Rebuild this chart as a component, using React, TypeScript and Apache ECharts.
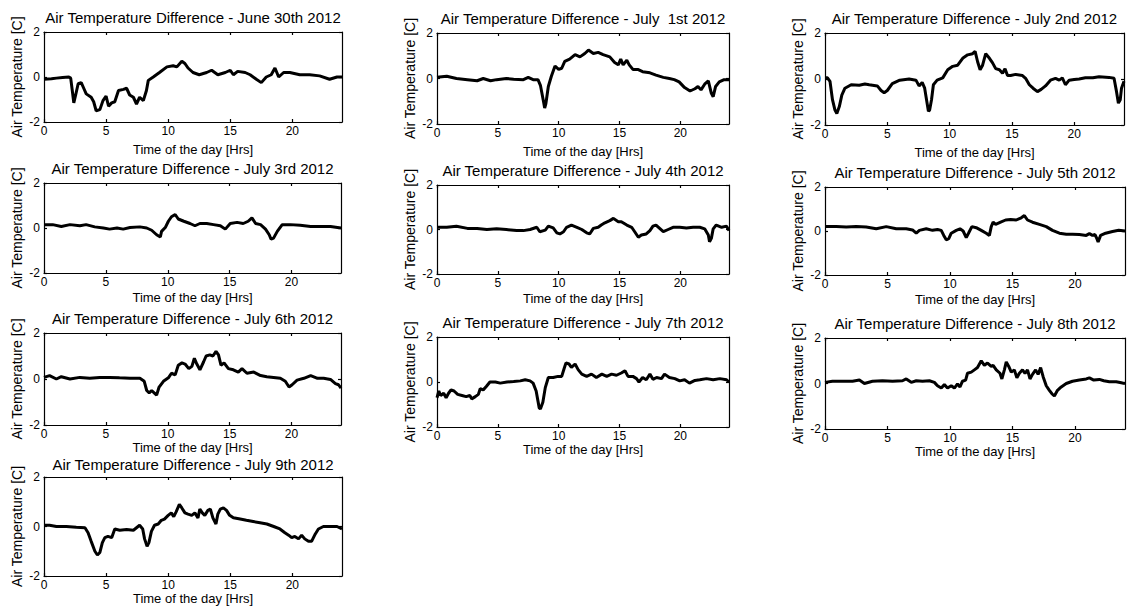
import React, { useEffect, useRef } from 'react';
import * as echarts from 'echarts';

const TITLES = [
  'Air Temperature Difference - June 30th 2012',
  'Air Temperature Difference - July  1st 2012',
  'Air Temperature Difference - July 2nd 2012',
  'Air Temperature Difference - July 3rd 2012',
  'Air Temperature Difference - July 4th 2012',
  'Air Temperature Difference - July 5th 2012',
  'Air Temperature Difference - July 6th 2012',
  'Air Temperature Difference - July 7th 2012',
  'Air Temperature Difference - July 8th 2012',
  'Air Temperature Difference - July 9th 2012',
];
const X_NAME = 'Time of the day [Hrs]';
const Y_NAME = 'Air Temperature [C]';
const X_TICKS = [0, 5, 10, 15, 20];
const Y_TICKS = [-2, 0, 2];

const june30 = [[0,-0.1],[0.6,-0.08],[1,-0.05],[1.5,-0.02],[2,0.0],[2.15,-0.05],[2.3,-0.7],[2.4,-1.15],[2.55,-0.8],[2.75,-0.3],[3.0,-0.25],[3.2,-0.5],[3.4,-0.75],[3.8,-0.9],[4.0,-1.1],[4.2,-1.5],[4.5,-1.45],[4.75,-1.05],[5.0,-0.85],[5.2,-1.3],[5.45,-1.15],[5.7,-1.1],[6.0,-0.6],[6.4,-0.55],[6.65,-0.5],[6.9,-0.8],[7.2,-0.9],[7.45,-1.2],[7.7,-0.9],[8.0,-1.05],[8.25,-0.6],[8.4,-0.15],[8.8,0.0],[9.3,0.2],[9.9,0.45],[10.4,0.5],[10.7,0.45],[11.1,0.7],[11.35,0.6],[11.6,0.4],[12.0,0.2],[12.5,0.1],[13.1,0.2],[13.5,0.3],[14.0,0.1],[14.6,0.2],[15.0,0.3],[15.25,0.1],[15.6,0.25],[16.2,0.2],[16.6,0.1],[17.1,-0.1],[17.5,-0.25],[17.9,0.0],[18.3,0.1],[18.6,0.4],[18.9,0.0],[19.3,0.2],[19.8,0.2],[20.6,0.1],[21.4,0.1],[22.2,0.05],[23.0,-0.1],[23.6,0.0],[24,0.0]];
const july1 = [[0,0.05],[0.8,0.1],[1.6,0.0],[2.5,-0.05],[3.3,-0.1],[3.8,0.0],[4.4,-0.1],[4.9,-0.05],[5.7,0.0],[6.3,-0.03],[7.1,-0.05],[7.5,0.05],[7.9,-0.05],[8.3,-0.05],[8.5,-0.3],[8.75,-1.0],[8.85,-1.3],[8.95,-1.1],[9.15,-0.35],[9.4,0.1],[9.7,0.55],[10.0,0.4],[10.25,0.45],[10.5,0.75],[10.9,0.85],[11.35,1.05],[11.75,0.95],[12.15,1.1],[12.45,1.25],[12.85,1.1],[13.25,1.15],[13.65,1.05],[14.2,0.95],[14.6,0.7],[14.9,0.6],[15.1,0.85],[15.3,0.6],[15.6,0.8],[15.8,0.6],[16.1,0.4],[16.5,0.4],[16.9,0.3],[17.5,0.25],[18.0,0.15],[18.6,0.05],[19.1,0.0],[19.5,-0.05],[19.9,-0.15],[20.35,-0.4],[20.8,-0.55],[21.2,-0.45],[21.45,-0.35],[21.7,-0.5],[22.0,-0.25],[22.3,-0.1],[22.55,-0.65],[22.7,-0.8],[22.9,-0.35],[23.2,-0.15],[23.6,-0.05],[24,-0.05]];
const july2 = [[0,0.05],[0.2,0.05],[0.4,-0.1],[0.6,-0.9],[0.8,-1.35],[0.95,-1.5],[1.15,-1.2],[1.35,-0.7],[1.6,-0.4],[2.1,-0.25],[2.75,-0.27],[3.2,-0.22],[3.55,-0.25],[4.2,-0.3],[4.5,-0.5],[4.75,-0.6],[5.0,-0.5],[5.4,-0.2],[6.0,-0.05],[6.75,0.0],[7.3,-0.05],[7.55,-0.3],[7.8,-0.15],[8.0,-0.4],[8.15,-0.9],[8.3,-1.4],[8.4,-1.35],[8.55,-0.9],[8.7,-0.25],[9.0,-0.05],[9.45,0.05],[9.85,0.4],[10.25,0.55],[10.65,0.6],[11.05,0.9],[11.45,1.05],[11.85,1.1],[12.05,1.2],[12.25,0.75],[12.45,0.4],[12.65,0.6],[12.9,1.1],[13.2,0.9],[13.45,0.7],[13.7,0.45],[14.0,0.4],[14.25,0.25],[14.45,0.45],[14.65,0.15],[14.9,0.15],[15.3,0.2],[15.85,0.15],[16.1,0.03],[16.4,-0.25],[16.7,-0.4],[17.05,-0.55],[17.35,-0.45],[17.7,-0.3],[18.1,-0.05],[18.5,0.03],[18.8,-0.05],[19.05,0.05],[19.3,-0.25],[19.6,-0.05],[20.0,-0.02],[20.4,0.0],[20.9,0.05],[21.5,0.05],[22.0,0.1],[22.8,0.07],[23.2,0.03],[23.4,-0.55],[23.55,-1.05],[23.7,-0.9],[23.8,-0.4],[24,-0.1]];
const july3 = [[0,0.15],[0.7,0.15],[1.4,0.07],[2.1,0.15],[2.9,0.1],[3.4,0.15],[4.1,0.05],[4.8,0.0],[5.3,-0.05],[5.9,0.0],[6.4,-0.05],[6.95,0.02],[7.75,0.05],[8.3,0.0],[8.7,-0.1],[9.1,-0.3],[9.4,-0.4],[9.5,-0.15],[9.8,0.02],[10.05,0.3],[10.3,0.5],[10.6,0.6],[10.85,0.4],[11.3,0.3],[11.8,0.2],[12.2,0.1],[12.6,0.2],[13.15,0.2],[13.7,0.15],[14.25,0.1],[14.65,-0.05],[15.05,0.2],[15.6,0.25],[16.1,0.2],[16.5,0.3],[16.8,0.45],[17.1,0.2],[17.5,0.15],[17.9,-0.05],[18.2,-0.3],[18.35,-0.5],[18.55,-0.45],[18.85,-0.15],[19.25,0.15],[19.9,0.15],[20.7,0.12],[21.55,0.07],[22.35,0.07],[23.15,0.07],[24,0.0]];
const july4 = [[0,0.1],[0.8,0.1],[1.6,0.15],[2.5,0.05],[3.3,0.05],[4.1,0.0],[4.9,0.03],[5.7,0.0],[6.55,-0.05],[7.1,-0.05],[7.65,0.0],[8.2,0.1],[8.45,-0.1],[8.9,-0.03],[9.15,0.15],[9.55,0.07],[9.85,-0.15],[10.1,-0.2],[10.4,-0.1],[10.65,0.1],[11.05,0.2],[11.5,0.1],[11.9,0.0],[12.3,-0.15],[12.55,-0.2],[12.85,0.05],[13.25,0.1],[13.5,0.2],[13.8,0.3],[14.2,0.4],[14.5,0.5],[14.9,0.35],[15.15,0.35],[15.6,0.2],[16.0,0.1],[16.25,-0.1],[16.55,-0.35],[16.8,-0.25],[17.2,-0.2],[17.5,-0.05],[17.75,0.15],[18.0,0.2],[18.3,0.05],[18.6,-0.1],[19.0,0.0],[19.4,0.1],[19.95,0.1],[20.5,0.07],[21.05,0.1],[21.6,0.1],[22.0,0.03],[22.3,-0.25],[22.4,-0.55],[22.55,-0.4],[22.7,0.03],[22.95,0.2],[23.4,0.1],[23.8,0.15],[24,-0.05]];
const july5 = [[0,0.2],[0.9,0.2],[1.7,0.18],[2.5,0.2],[3.3,0.18],[4.1,0.1],[4.9,0.2],[5.7,0.1],[6.5,0.1],[7.0,0.05],[7.3,-0.1],[7.55,0.03],[8.1,0.1],[8.6,0.03],[9.0,0.07],[9.3,0.03],[9.5,-0.2],[9.7,-0.4],[9.9,-0.35],[10.1,-0.1],[10.5,0.03],[10.8,0.1],[11.05,0.0],[11.3,-0.3],[11.5,-0.08],[11.75,0.2],[12.1,0.15],[12.5,0.03],[12.9,-0.1],[13.15,-0.2],[13.3,0.2],[13.45,0.4],[13.65,0.3],[14.05,0.4],[14.45,0.5],[14.85,0.52],[15.3,0.5],[15.7,0.6],[15.95,0.7],[16.2,0.5],[16.6,0.4],[17.15,0.3],[17.7,0.2],[18.2,0.03],[18.75,-0.1],[19.3,-0.15],[19.8,-0.15],[20.35,-0.16],[20.9,-0.2],[21.15,-0.12],[21.4,-0.2],[21.6,-0.16],[21.75,-0.35],[21.85,-0.5],[22.05,-0.2],[22.45,-0.1],[23.0,-0.02],[23.5,0.03],[24,0.0]];
const july6 = [[0,0.07],[0.45,0.15],[1.0,0.0],[1.4,0.1],[2.1,0.0],[2.9,0.07],[3.7,0.03],[4.5,0.07],[5.3,0.07],[6.1,0.05],[6.95,0.03],[7.75,0.03],[8.1,-0.1],[8.3,-0.5],[8.5,-0.6],[8.7,-0.5],[8.9,-0.6],[9.1,-0.7],[9.3,-0.35],[9.65,-0.1],[10.05,0.05],[10.3,0.25],[10.6,0.18],[10.85,0.6],[11.15,0.7],[11.4,0.65],[11.7,0.45],[11.95,0.55],[12.15,0.9],[12.35,0.65],[12.6,0.4],[12.9,0.75],[13.1,1.0],[13.4,1.05],[13.65,1.0],[13.9,1.2],[14.1,1.05],[14.3,0.6],[14.55,0.7],[14.9,0.45],[15.3,0.4],[15.7,0.3],[16.0,0.45],[16.4,0.25],[16.95,0.3],[17.5,0.15],[18.0,0.1],[18.55,0.07],[19.1,0.03],[19.5,-0.1],[19.8,-0.35],[20.05,-0.25],[20.45,-0.05],[21.0,0.03],[21.55,0.15],[22.1,0.03],[22.6,0.03],[23.15,-0.02],[23.55,-0.2],[23.8,-0.25],[24,-0.4]];
const july7 = [[0,-0.7],[0.15,-0.4],[0.3,-0.6],[0.55,-0.5],[0.75,-0.7],[0.95,-0.5],[1.15,-0.35],[1.4,-0.4],[1.7,-0.55],[2.05,-0.6],[2.4,-0.65],[2.7,-0.6],[2.85,-0.75],[3.15,-0.65],[3.4,-0.55],[3.55,-0.3],[3.8,-0.35],[4.05,-0.2],[4.35,0.0],[4.8,0.0],[5.2,-0.05],[5.75,0.0],[6.3,0.02],[6.85,0.05],[7.25,0.1],[7.65,0.05],[7.9,-0.05],[8.15,-0.4],[8.3,-0.85],[8.4,-1.15],[8.5,-1.2],[8.7,-0.9],[8.9,-0.25],[9.15,0.2],[9.55,0.2],[9.95,0.25],[10.25,0.25],[10.45,0.6],[10.6,0.85],[10.85,0.8],[11.05,0.65],[11.35,0.8],[11.6,0.55],[11.9,0.35],[12.3,0.25],[12.7,0.35],[13.1,0.2],[13.55,0.35],[13.95,0.25],[14.35,0.35],[14.75,0.3],[15.15,0.4],[15.45,0.5],[15.7,0.25],[16.1,0.25],[16.4,0.15],[16.6,0.0],[16.9,0.2],[17.2,0.1],[17.5,0.35],[17.75,0.12],[18.05,0.2],[18.45,0.15],[18.7,0.35],[19.1,0.2],[19.55,0.15],[19.95,0.05],[20.35,0.1],[20.75,-0.05],[21.2,0.07],[21.6,0.1],[22.15,0.15],[22.7,0.1],[23.25,0.15],[23.8,0.1],[24,0.0]];
const july8 = [[0,0.05],[0.6,0.1],[1.4,0.1],[2.2,0.1],[2.75,0.15],[3.15,0.0],[3.8,0.1],[4.6,0.12],[5.4,0.1],[6.2,0.12],[6.5,0.2],[6.9,0.05],[7.3,0.12],[7.8,0.1],[8.35,0.12],[8.75,0.05],[9.0,-0.1],[9.3,-0.2],[9.55,-0.05],[9.8,-0.2],[10.1,-0.1],[10.35,-0.2],[10.6,-0.02],[10.8,-0.15],[11.0,0.1],[11.25,0.15],[11.4,0.45],[11.7,0.5],[11.95,0.6],[12.2,0.7],[12.5,1.0],[12.75,0.8],[13.0,0.9],[13.3,0.75],[13.45,0.8],[13.7,0.6],[14.0,0.45],[14.15,0.2],[14.35,0.6],[14.5,0.95],[14.7,0.75],[14.9,0.5],[15.15,0.6],[15.35,0.25],[15.55,0.45],[15.8,0.6],[16.0,0.45],[16.2,0.6],[16.4,0.2],[16.6,0.4],[16.85,0.6],[17.05,0.4],[17.25,0.7],[17.45,0.3],[17.7,-0.1],[17.95,-0.3],[18.15,-0.45],[18.35,-0.55],[18.6,-0.3],[18.9,-0.15],[19.3,0.0],[19.8,0.1],[20.35,0.15],[20.9,0.2],[21.15,0.25],[21.5,0.15],[21.95,0.18],[22.3,0.12],[22.75,0.08],[23.3,0.08],[23.8,0.02],[24,0.0]];
const july9 = [[0,0.05],[0.45,0.05],[1.0,0.0],[1.8,0.0],[2.6,-0.03],[3.3,-0.05],[3.55,-0.25],[3.8,-0.6],[4.1,-1.0],[4.3,-1.15],[4.5,-1.05],[4.7,-0.65],[4.9,-0.45],[5.15,-0.4],[5.45,-0.45],[5.7,-0.1],[6.1,-0.15],[6.65,-0.12],[7.2,-0.15],[7.45,-0.05],[7.7,0.05],[7.95,-0.1],[8.1,-0.5],[8.3,-0.8],[8.45,-0.65],[8.65,-0.2],[8.9,0.05],[9.2,0.1],[9.45,0.25],[9.7,0.3],[10.0,0.45],[10.25,0.55],[10.45,0.4],[10.65,0.6],[10.9,0.9],[11.1,0.75],[11.35,0.55],[11.6,0.5],[11.9,0.45],[12.15,0.55],[12.4,0.35],[12.55,0.7],[12.75,0.55],[12.95,0.45],[13.2,0.65],[13.4,0.7],[13.6,0.35],[13.85,0.1],[14.0,0.5],[14.2,0.7],[14.45,0.75],[14.7,0.65],[14.95,0.45],[15.25,0.35],[15.8,0.3],[16.3,0.25],[16.85,0.2],[17.4,0.15],[17.95,0.1],[18.5,0.0],[19.0,-0.1],[19.4,-0.25],[19.7,-0.35],[19.95,-0.45],[20.2,-0.4],[20.5,-0.5],[20.75,-0.35],[21.0,-0.5],[21.3,-0.6],[21.55,-0.6],[21.85,-0.3],[22.1,-0.1],[22.5,0.0],[23.05,0.0],[23.6,0.0],[24,-0.1]];

const SERIES = [june30, july1, july2, july3, july4, july5, july6, july7, july8, july9];

// layout: [left, top, width, height] of each plot box
const BOXES = [
  [44, 32, 298, 90],
  [437, 33, 292, 91],
  [825, 33, 299, 92],
  [44, 183, 297, 90],
  [437, 185, 292, 89],
  [825, 187, 300, 88],
  [44, 333, 297, 92],
  [437, 337, 292, 90],
  [825, 338, 300, 91],
  [44, 477, 298, 99],
];
// per-row gap of the x-axis name below the box, and of the title above it
const ROW_NAME_GAP = [21, 18, 15, 16];
const ROW_TITLE_OFFSET = [22, 22, 22, 20];

const FONT = '"Liberation Sans", Arial, Helvetica, sans-serif';

export default function App() {
  const ref = useRef<HTMLDivElement>(null);
  useEffect(() => {
    if (!ref.current) return;
    const chart = echarts.init(ref.current, null, { renderer: 'svg' });
    const grid: any[] = [];
    const xAxis: any[] = [];
    const yAxis: any[] = [];
    const series: any[] = [];
    const title: any[] = [];
    const lineStyle = { color: '#000', width: 1.2 };
    BOXES.forEach(([l, t, w, h], i) => {
      const row = Math.floor(i / 3);
      grid.push({ left: l, top: t, width: w, height: h, show: false });
      const axisLine = { show: true, onZero: false, lineStyle };
      const xTick = { show: true, inside: true, length: 3, lineStyle, customValues: X_TICKS };
      const yTick = { show: true, inside: true, length: 3, lineStyle, customValues: Y_TICKS };
      xAxis.push({
        type: 'value', gridIndex: i, position: 'bottom', min: 0, max: 24,
        axisLine, axisTick: xTick, splitLine: { show: false },
        axisLabel: { customValues: X_TICKS, color: '#000', fontSize: 12, margin: 3, fontFamily: FONT },
        name: X_NAME, nameLocation: 'middle', nameGap: ROW_NAME_GAP[row],
        nameTextStyle: { color: '#000', fontSize: 13, fontFamily: FONT },
      });
      xAxis.push({
        type: 'value', gridIndex: i, position: 'top', min: 0, max: 24,
        axisLine, axisTick: xTick, splitLine: { show: false }, axisLabel: { show: false },
      });
      yAxis.push({
        type: 'value', gridIndex: i, position: 'left', min: -2, max: 2, interval: 2,
        axisLine, axisTick: yTick, splitLine: { show: false },
        axisLabel: { color: '#000', fontSize: 12, margin: 4, fontFamily: FONT },
        name: Y_NAME, nameLocation: 'middle', nameGap: 20,
        nameTextStyle: { color: '#000', fontSize: 14, fontFamily: FONT },
      });
      yAxis.push({
        type: 'value', gridIndex: i, position: 'right', min: -2, max: 2, interval: 2,
        axisLine, axisTick: yTick, splitLine: { show: false }, axisLabel: { show: false },
      });
      series.push({
        type: 'line', xAxisIndex: 2 * i, yAxisIndex: 2 * i, data: SERIES[i],
        showSymbol: false, symbol: 'none', silent: true,
        lineStyle: { color: '#000', width: 3 },
      });
      title.push({
        text: TITLES[i], left: l + w / 2, top: t - ROW_TITLE_OFFSET[row], textAlign: 'center', padding: 0,
        textStyle: { fontSize: 15, fontWeight: 'normal', color: '#000', fontFamily: FONT },
      });
    });
    chart.setOption({ animation: false, backgroundColor: '#fff', title, grid, xAxis, yAxis, series });
    return () => chart.dispose();
  }, []);
  return <div ref={ref} style={{ position: 'fixed', left: 0, top: 0, width: 1136, height: 612 }} />;
}
